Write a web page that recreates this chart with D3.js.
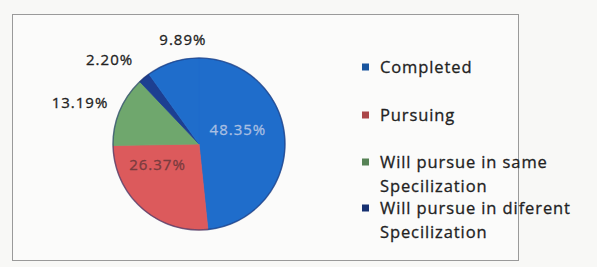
<!DOCTYPE html>
<html>
<head>
<meta charset="utf-8">
<script src="https://cdn.jsdelivr.net/npm/d3@7"></script>
<style>
  body { margin: 0; background: #f8f8f6; }
  svg { display: block; }
</style>
</head>
<body>
<div id="chart"></div>
<script>
// slice data, clockwise from 12 o'clock
const categories = ["Completed", "Pursuing", "Will pursue in same Specilization", "Will pursue in diferent Specilization", ""];
const values = [48.35, 26.37, 13.19, 2.20, 9.89];
const valueLabels = ["48.35%", "26.37%", "13.19%", "2.20%", "9.89%"];
// legend only lists the first four
const legendItems = [
    ["Completed"],
    ["Pursuing"],
    ["Will pursue in same", "Specilization"],
    ["Will pursue in diferent", "Specilization"]
];

const width = 597, height = 267;
const colors = ["#1f6dcb", "#dc5a5c", "#6fa76d", "#1d3f91", "#1f6dcb"];
const textColors = ["#a9bfe2", "#7a3b3e", "#222", "#222", "#222"];

const svg = d3.select("#chart").append("svg")
    .attr("width", width)
    .attr("height", height)
    .style("font-family", "'Open Sans', sans-serif");

// chart frame
svg.append("rect")
    .attr("x", 12.5).attr("y", 14.5)
    .attr("width", 506).attr("height", 246)
    .attr("fill", "#fbfbfa")
    .attr("stroke", "#9a9a9a");

const cx = 199, cy = 144, r = 86;

const pie = d3.pie().sort(null).value(d => d.value);
const arcs = pie(values.map((v, i) => ({ value: v, i })));
const arc = d3.arc().innerRadius(0).outerRadius(r);

const g = svg.append("g").attr("transform", `translate(${cx},${cy})`);

g.selectAll("path")
    .data(arcs)
    .join("path")
    .attr("d", arc)
    .attr("fill", d => colors[d.data.i])
    .attr("stroke", d => colors[d.data.i])
    .attr("stroke-width", 0.8);

// darker rim like the print
g.append("circle")
    .attr("r", r)
    .attr("fill", "none")
    .attr("stroke", "#1b2f6e")
    .attr("stroke-opacity", 0.55)
    .attr("stroke-width", 1.5);

// label placement: radius factor and small nudges (layout, not data)
const labelRadius = [0.5, 0.5, 1.45, 1.45, 1.45];
const labelNudge = [[-4, -12], [-13, -11], [-4, 7], [-10, 12], [22, 14]];

g.selectAll("text.val")
    .data(arcs)
    .join("text")
    .attr("class", "val")
    .attr("text-anchor", "middle")
    .attr("dy", "0.35em")
    .attr("font-size", 15)
    .attr("letter-spacing", 1)
    .attr("fill", d => textColors[d.data.i])
    .attr("stroke", d => textColors[d.data.i])
    .attr("stroke-width", 0.3)
    .attr("x", d => {
        const a = (d.startAngle + d.endAngle) / 2;
        return Math.sin(a) * r * labelRadius[d.data.i] + labelNudge[d.data.i][0];
    })
    .attr("y", d => {
        const a = (d.startAngle + d.endAngle) / 2;
        return -Math.cos(a) * r * labelRadius[d.data.i] + labelNudge[d.data.i][1];
    })
    .text(d => valueLabels[d.data.i]);

// legend
const legend = svg.append("g").attr("transform", "translate(362,0)");

const item = legend.selectAll("g")
    .data(legendItems)
    .join("g")
    .attr("transform", (d, i) => `translate(0,${[67, 115, 162, 208][i]})`);

item.append("rect")
    .attr("x", 0).attr("y", -3.5)
    .attr("width", 7).attr("height", 7)
    .attr("fill", (d, i) => d3.color(colors[i]).darker(0.7));

item.append("text")
    .attr("font-size", 16.5)
    .attr("letter-spacing", 0.9)
    .attr("fill", "#222")
    .attr("stroke", "#222")
    .attr("stroke-width", 0.3)
    .selectAll("tspan")
    .data(d => d)
    .join("tspan")
    .attr("x", 18)
    .attr("y", (d, j) => j * 24)
    .attr("dy", "0.35em")
    .text(d => d);
</script>
</body>
</html>
